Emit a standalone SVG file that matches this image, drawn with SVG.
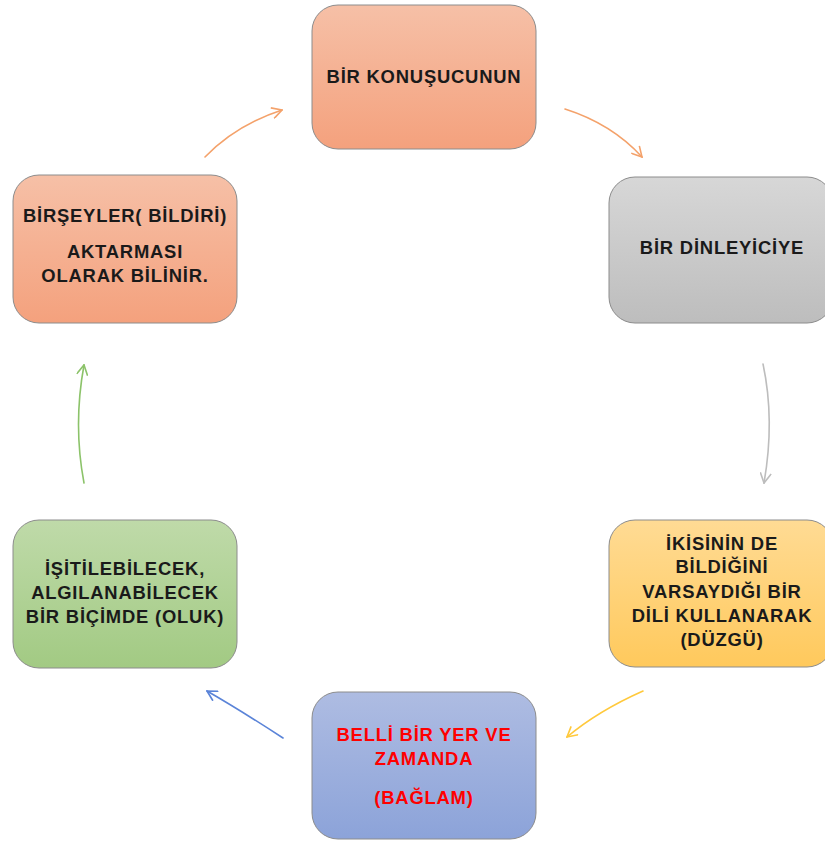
<svg xmlns="http://www.w3.org/2000/svg" width="825" height="842" viewBox="0 0 825 842">
  <style>
    .box { stroke: #8c8c8c; stroke-width: 1; }
    .lbl { font-family: "Liberation Sans", Arial, sans-serif; font-weight: bold; font-size: 18.4px; letter-spacing: 0.8px; text-anchor: middle; fill: #1a1a1a; }
    .red { fill: #ff0000; }
    .conn { fill: none; stroke-width: 1.6; stroke-linecap: round; }
  </style>
  <defs>
    <linearGradient id="gSalmon" x1="0" y1="0" x2="0" y2="1">
      <stop offset="0" stop-color="#f6c0a7"/>
      <stop offset="1" stop-color="#f4a17d"/>
    </linearGradient>
    <linearGradient id="gGray" x1="0" y1="0" x2="0" y2="1">
      <stop offset="0" stop-color="#d7d7d7"/>
      <stop offset="1" stop-color="#bdbdbd"/>
    </linearGradient>
    <linearGradient id="gYellow" x1="0" y1="0" x2="0" y2="1">
      <stop offset="0" stop-color="#ffdb94"/>
      <stop offset="1" stop-color="#ffc95c"/>
    </linearGradient>
    <linearGradient id="gBlue" x1="0" y1="0" x2="0" y2="1">
      <stop offset="0" stop-color="#aebce2"/>
      <stop offset="1" stop-color="#8ca3d9"/>
    </linearGradient>
    <linearGradient id="gGreen" x1="0" y1="0" x2="0" y2="1">
      <stop offset="0" stop-color="#bfdaa9"/>
      <stop offset="1" stop-color="#a2ca83"/>
    </linearGradient>
    <marker id="mOrange" viewBox="0 0 12 12" refX="11" refY="6" markerWidth="12" markerHeight="12" markerUnits="userSpaceOnUse" orient="auto">
      <path d="M1,0.5 L11,6 L1,11.5" fill="none" stroke="#f4a26b" stroke-width="1.6"/>
    </marker>
    <marker id="mGray" viewBox="0 0 12 12" refX="11" refY="6" markerWidth="12" markerHeight="12" markerUnits="userSpaceOnUse" orient="auto">
      <path d="M1,0.5 L11,6 L1,11.5" fill="none" stroke="#bdbdbd" stroke-width="1.6"/>
    </marker>
    <marker id="mYellow" viewBox="0 0 12 12" refX="11" refY="6" markerWidth="12" markerHeight="12" markerUnits="userSpaceOnUse" orient="auto">
      <path d="M1,0.5 L11,6 L1,11.5" fill="none" stroke="#ffc93c" stroke-width="1.6"/>
    </marker>
    <marker id="mBlue" viewBox="0 0 12 12" refX="11" refY="6" markerWidth="12" markerHeight="12" markerUnits="userSpaceOnUse" orient="auto">
      <path d="M1,0.5 L11,6 L1,11.5" fill="none" stroke="#5b84d8" stroke-width="1.6"/>
    </marker>
    <marker id="mGreen" viewBox="0 0 12 12" refX="11" refY="6" markerWidth="12" markerHeight="12" markerUnits="userSpaceOnUse" orient="auto">
      <path d="M1,0.5 L11,6 L1,11.5" fill="none" stroke="#8cc36a" stroke-width="1.6"/>
    </marker>
  </defs>

  <rect width="825" height="842" fill="#ffffff"/>

  <!-- connectors of the cycle -->
  <g id="connectors">
    <path class="conn" stroke="#f4a26b" d="M205,157 Q236,125 282,110" marker-end="url(#mOrange)"/>
    <path class="conn" stroke="#f4a26b" d="M565,109 Q612,124 642,157" marker-end="url(#mOrange)"/>
    <path class="conn" stroke="#bdbdbd" d="M763,364 Q775,420 764,483" marker-end="url(#mGray)"/>
    <path class="conn" stroke="#ffc93c" d="M643,691 Q598,711 567,737" marker-end="url(#mYellow)"/>
    <path class="conn" stroke="#5b84d8" d="M283,738 Q240,710 207,691" marker-end="url(#mBlue)"/>
    <path class="conn" stroke="#8cc36a" d="M84,483 Q73,425 84,365" marker-end="url(#mGreen)"/>
  </g>

  <g id="speaker">
    <rect class="box" x="312" y="5" width="224" height="144" rx="26" fill="url(#gSalmon)"/>
    <text class="lbl" x="424" y="83">BİR KONUŞUCUNUN</text>
  </g>

  <g id="listener">
    <rect class="box" x="609" y="177" width="224" height="146" rx="26" fill="url(#gGray)"/>
    <text class="lbl" x="722" y="254">BİR DİNLEYİCİYE</text>
  </g>

  <g id="code">
    <rect class="box" x="609" y="520" width="224" height="147" rx="26" fill="url(#gYellow)"/>
    <text class="lbl" x="722" y="550">İKİSİNİN DE</text>
    <text class="lbl" x="722" y="573">BİLDİĞİNİ</text>
    <text class="lbl" x="722" y="598">VARSAYDIĞI BİR</text>
    <text class="lbl" x="722" y="622">DİLİ KULLANARAK</text>
    <text class="lbl" x="722" y="646">(DÜZGÜ)</text>
  </g>

  <g id="context">
    <rect class="box" x="312" y="692" width="224" height="147" rx="26" fill="url(#gBlue)"/>
    <text class="lbl red" x="424" y="741">BELLİ BİR YER VE</text>
    <text class="lbl red" x="424" y="765">ZAMANDA</text>
    <text class="lbl red" x="424" y="804">(BAĞLAM)</text>
  </g>

  <g id="channel">
    <rect class="box" x="13" y="520" width="224" height="148" rx="26" fill="url(#gGreen)"/>
    <text class="lbl" x="125" y="575">İŞİTİLEBİLECEK,</text>
    <text class="lbl" x="125" y="599">ALGILANABİLECEK</text>
    <text class="lbl" x="125" y="623">BİR BİÇİMDE (OLUK)</text>
  </g>

  <g id="message">
    <rect class="box" x="13" y="175" width="224" height="148" rx="26" fill="url(#gSalmon)"/>
    <text class="lbl" x="125" y="222">BİRŞEYLER( BİLDİRİ)</text>
    <text class="lbl" x="125" y="258">AKTARMASI</text>
    <text class="lbl" x="125" y="282">OLARAK BİLİNİR.</text>
  </g>
</svg>
